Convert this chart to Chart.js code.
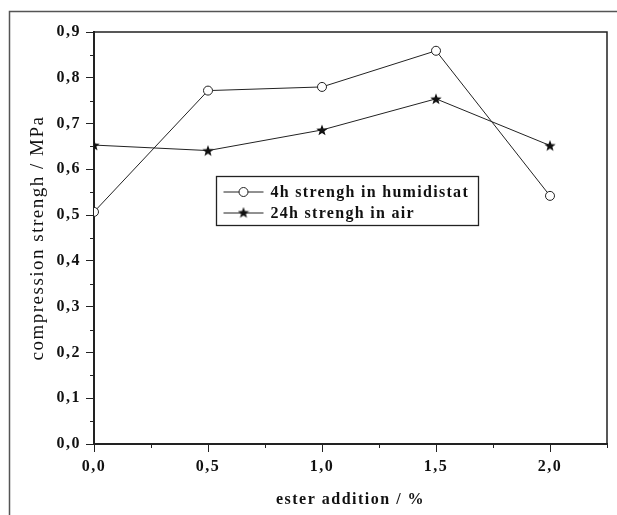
<!DOCTYPE html>
<html>
<head>
<meta charset="utf-8">
<script src="https://cdn.jsdelivr.net/npm/chart.js@4"></script>
<style>
  html, body { margin: 0; padding: 0; background: #fff; }
  #wrap { width: 617px; height: 515px; }
</style>
</head>
<body>
<div id="wrap"><canvas id="myChart" width="617" height="515"></canvas></div>
<script>
// values
const esterAddition = [0.0, 0.5, 1.0, 1.5, 2.0];
const humidistat4h = [0.507, 0.772, 0.780, 0.859, 0.542];
const air24h = [0.653, 0.641, 0.686, 0.754, 0.652];
const seriesLabels = ['4h strengh in humidistat', '24h strengh in air'];
const xMinorTicks = [0.25, 0.75, 1.25, 1.75, 2.25];
const yMinorTicks = [0.05, 0.15, 0.25, 0.35, 0.45, 0.55, 0.65, 0.75, 0.85];

const serif = '"Liberation Serif", "DejaVu Serif", serif';

function commaLabel(v) {
    return v.toFixed(1).replace('.', ',');
}

// filled five point star used as marker
function makeStar(size) {
    const c = document.createElement('canvas');
    c.width = size; c.height = size;
    const g = c.getContext('2d');
    const cx = size / 2, cy = size / 2 + 0.5;
    const R = size / 2, r = R * 0.42;
    g.beginPath();
    for (let i = 0; i < 10; i++) {
        const rad = i % 2 === 0 ? R : r;
        const a = -Math.PI / 2 + i * Math.PI / 5;
        g.lineTo(cx + rad * Math.cos(a), cy + rad * Math.sin(a));
    }
    g.closePath();
    g.fillStyle = '#111';
    g.fill();
    return c;
}
const starImg = makeStar(12);

function toPoints(xs, ys) {
    return xs.map((x, i) => ({ x: x, y: ys[i] }));
}

// the scanned figure has widely spaced type
const spacing = {
    id: 'spacing',
    beforeLayout(chart) { chart.ctx.letterSpacing = '1.5px'; },
    beforeDraw(chart) { chart.ctx.letterSpacing = '1.5px'; }
};

// outer frame, plot box, minor ticks and boxed legend
const decorations = {
    id: 'decorations',
    beforeDraw(chart) {
        const ctx = chart.ctx;
        ctx.save();
        ctx.strokeStyle = '#555';
        ctx.lineWidth = 1.5;
        ctx.beginPath();
        ctx.moveTo(9.5, chart.height);
        ctx.lineTo(9.5, 11.5);
        ctx.lineTo(chart.width, 11.5);
        ctx.stroke();
        ctx.restore();
    },
    afterDraw(chart) {
        const ctx = chart.ctx;
        const a = chart.chartArea;
        const xs = chart.scales.x, ys = chart.scales.y;
        ctx.save();
        ctx.strokeStyle = '#222';
        ctx.lineWidth = 1.5;
        ctx.beginPath();
        ctx.moveTo(a.left, a.top);
        ctx.lineTo(a.right, a.top);
        ctx.lineTo(a.right, a.bottom);
        ctx.stroke();

        ctx.lineWidth = 1;
        ctx.beginPath();
        xMinorTicks.forEach(v => {
            const px = Math.round(xs.getPixelForValue(v)) + 0.5;
            ctx.moveTo(px, a.bottom);
            ctx.lineTo(px, a.bottom + 4);
        });
        yMinorTicks.forEach(v => {
            const py = Math.round(ys.getPixelForValue(v)) + 0.5;
            ctx.moveTo(a.left, py);
            ctx.lineTo(a.left - 4, py);
        });
        ctx.stroke();

        // legend box
        const bx = 216.5, by = 176.5, bw = 262, bh = 49;
        ctx.fillStyle = '#fff';
        ctx.fillRect(bx, by, bw, bh);
        ctx.strokeStyle = '#222';
        ctx.lineWidth = 1.3;
        ctx.strokeRect(bx, by, bw, bh);
        ctx.font = 'bold 16px ' + serif;
        ctx.textBaseline = 'middle';
        ctx.fillStyle = '#111';
        ctx.letterSpacing = '1.3px';
        chart.data.datasets.forEach((ds, i) => {
            const ry = by + 15.5 + i * 21;
            ctx.strokeStyle = '#222';
            ctx.lineWidth = 1;
            ctx.beginPath();
            ctx.moveTo(bx + 7, ry);
            ctx.lineTo(bx + 47, ry);
            ctx.stroke();
            if (ds.pointStyle === 'circle') {
                ctx.beginPath();
                ctx.arc(bx + 27, ry, 4.5, 0, Math.PI * 2);
                ctx.fillStyle = '#fff';
                ctx.fill();
                ctx.stroke();
            } else {
                ctx.drawImage(starImg, bx + 21, ry - 6.5);
            }
            ctx.fillStyle = '#111';
            ctx.fillText(ds.label, bx + 54, ry + 1);
        });
        ctx.restore();
    }
};

const ctx = document.getElementById('myChart').getContext('2d');
const chart = new Chart(ctx, {
    type: 'line',
    data: {
        datasets: [
            {
                label: seriesLabels[0],
                data: toPoints(esterAddition, humidistat4h),
                borderColor: '#222',
                borderWidth: 1,
                pointStyle: 'circle',
                pointRadius: 4.5,
                pointBackgroundColor: '#fff',
                pointBorderColor: '#222',
                pointBorderWidth: 1,
                tension: 0,
                fill: false
            },
            {
                label: seriesLabels[1],
                data: toPoints(esterAddition, air24h),
                borderColor: '#222',
                borderWidth: 1,
                pointStyle: starImg,
                pointRadius: 6,
                tension: 0,
                fill: false
            }
        ]
    },
    options: {
        responsive: false,
        animation: false,
        events: [],
        layout: { padding: { left: 0, top: 32, right: 10, bottom: 0 } },
        plugins: {
            legend: { display: false },
            tooltip: { enabled: false }
        },
        scales: {
            x: {
                type: 'linear',
                position: 'bottom',
                min: 0,
                max: 2.25,
                afterFit(scale) { scale.height = 71; },
                border: { display: true, color: '#222', width: 2 },
                grid: { drawOnChartArea: false, drawTicks: true, tickLength: 8, tickColor: '#222', tickWidth: 1 },
                ticks: {
                    stepSize: 0.5,
                    includeBounds: false,
                    maxRotation: 0,
                    padding: 5,
                    color: '#111',
                    font: { family: serif, size: 16, weight: 'bold' },
                    callback: v => commaLabel(v)
                },
                title: {
                    display: true,
                    text: 'ester addition / %',
                    color: '#111',
                    font: { family: serif, size: 16, weight: 'bold' },
                    padding: { top: 0, bottom: 6 }
                }
            },
            y: {
                min: 0,
                max: 0.9,
                afterFit(scale) { scale.width = 94; },
                border: { display: true, color: '#222', width: 2 },
                grid: { drawOnChartArea: false, drawTicks: true, tickLength: 8, tickColor: '#222', tickWidth: 1 },
                ticks: {
                    stepSize: 0.1,
                    padding: 5,
                    color: '#111',
                    font: { family: serif, size: 16, weight: 'bold' },
                    callback: v => commaLabel(v)
                },
                title: {
                    display: true,
                    text: 'compression strengh / MPa',
                    color: '#111',
                    font: { family: serif, size: 19 },
                    padding: { top: 27, bottom: 0 }
                }
            }
        }
    },
    plugins: [spacing, decorations]
});
</script>
</body>
</html>
